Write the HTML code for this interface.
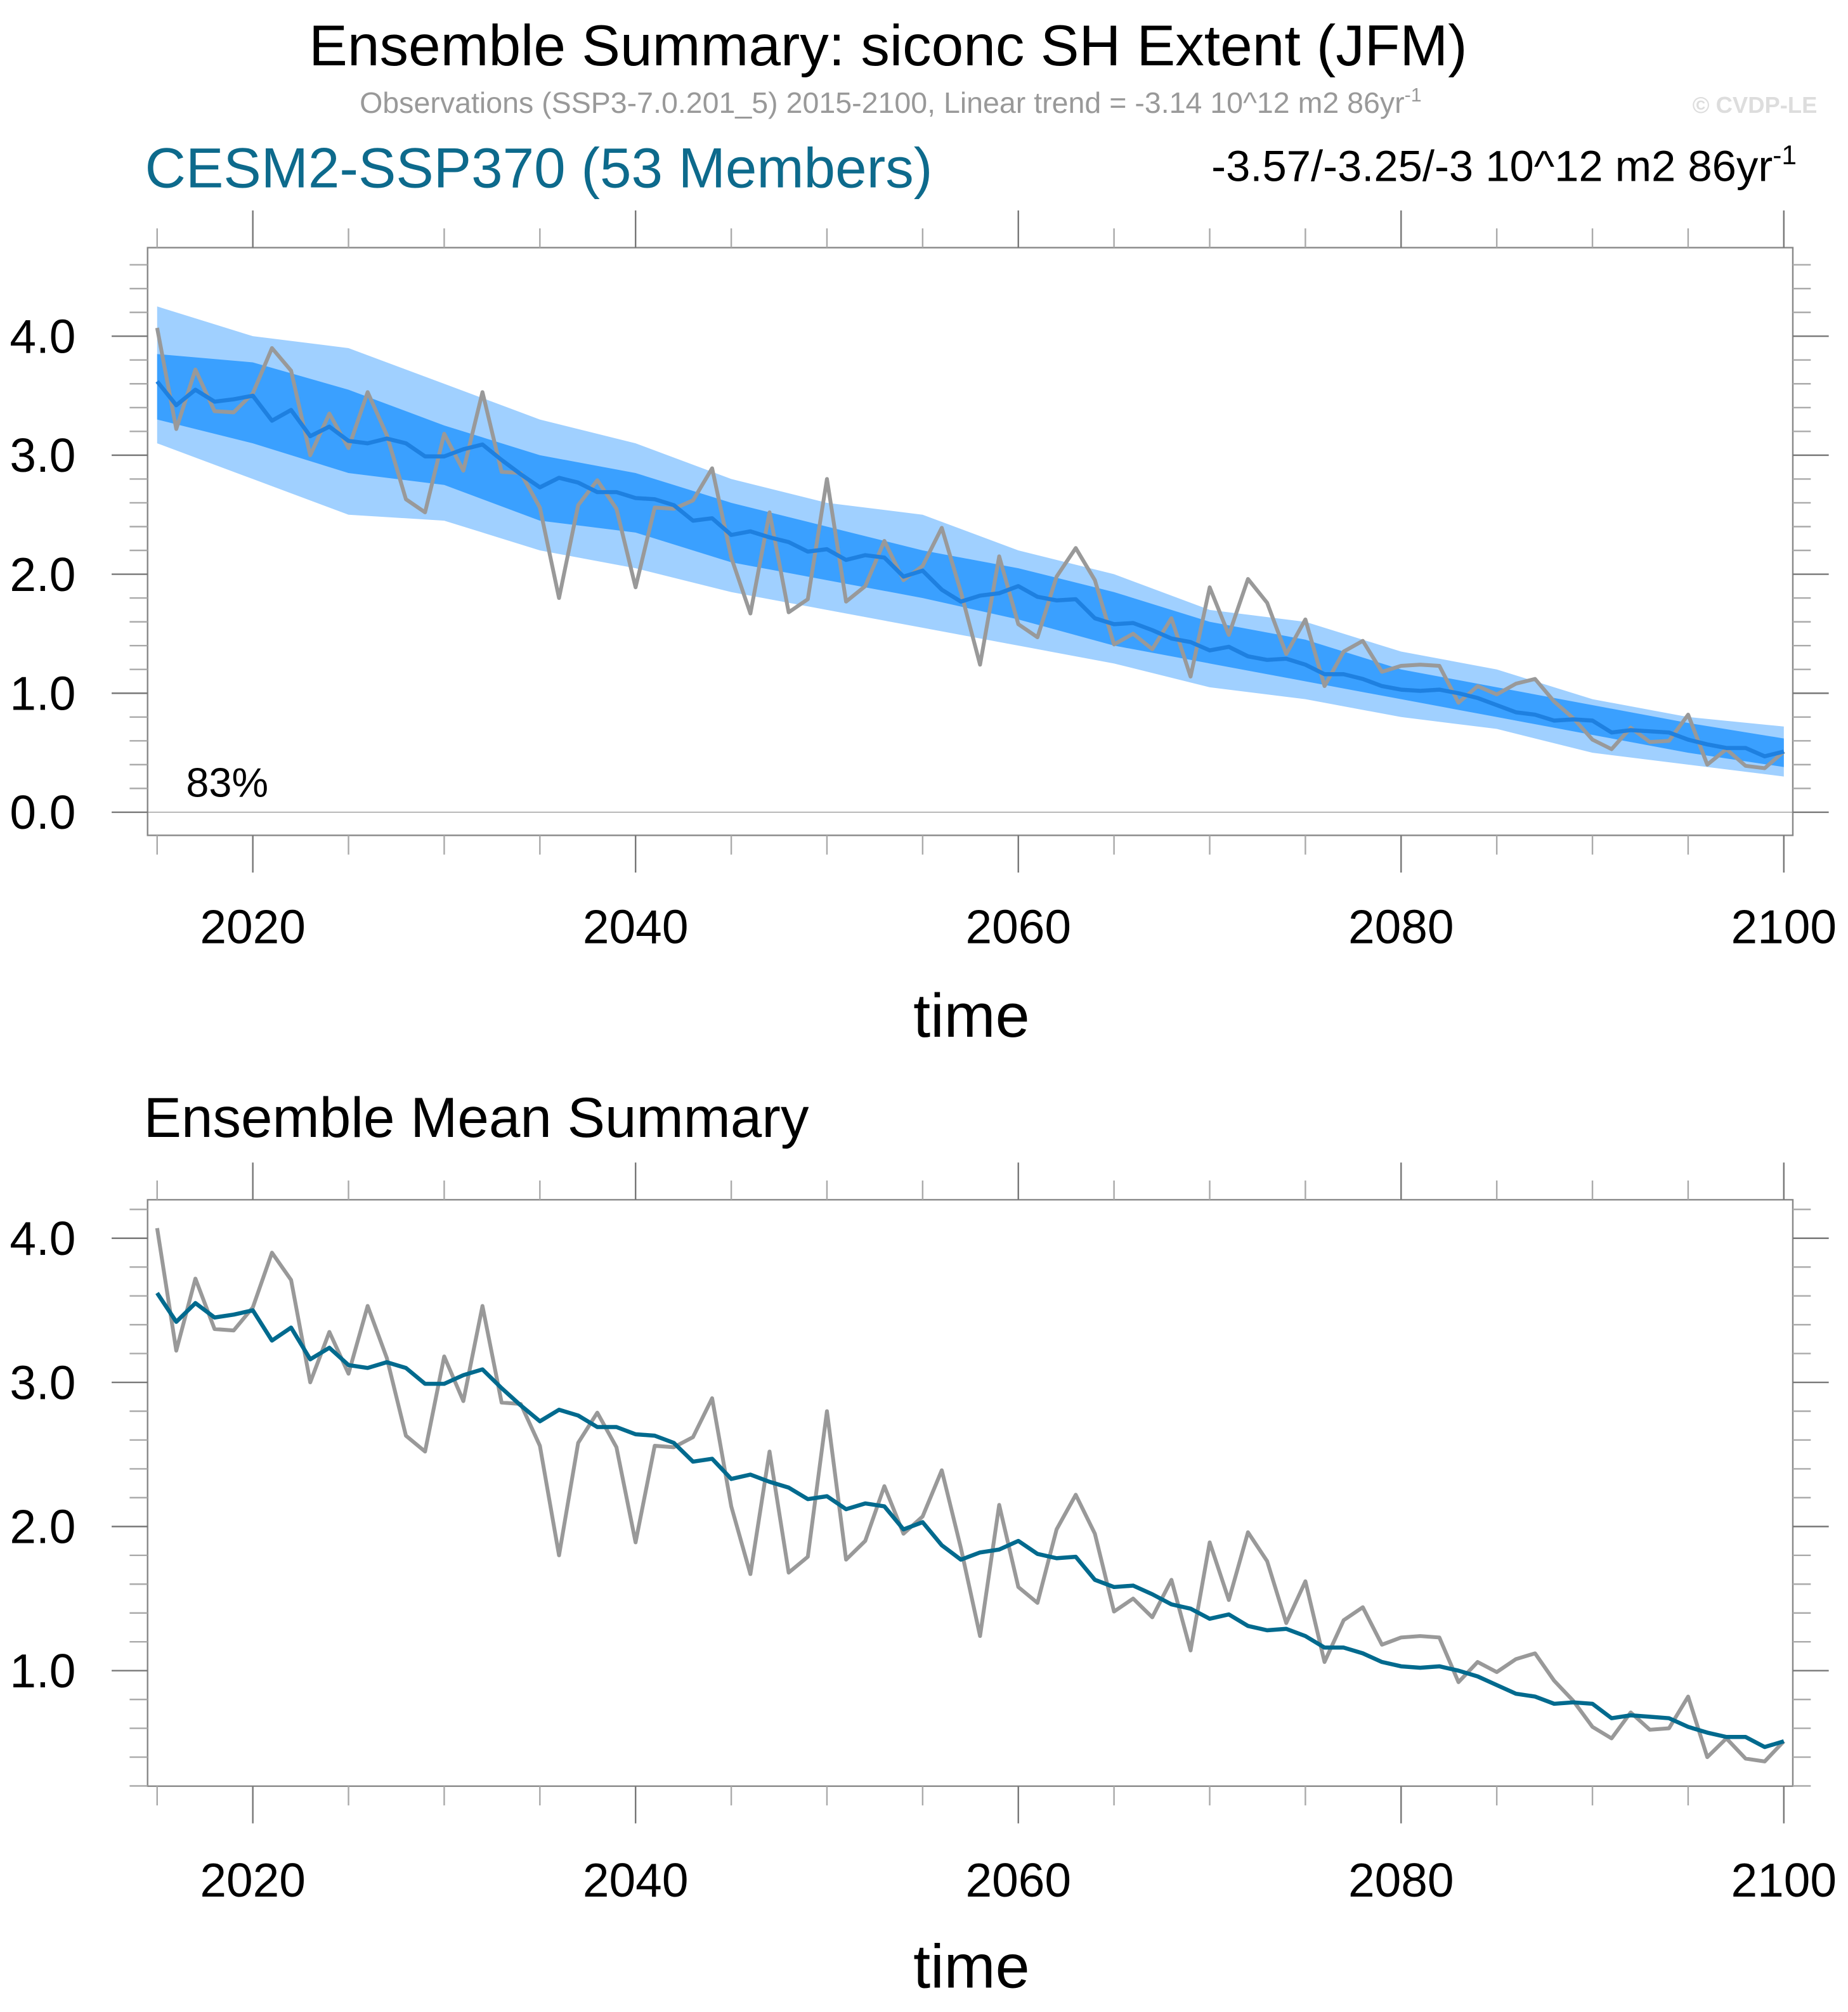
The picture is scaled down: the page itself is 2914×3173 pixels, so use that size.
<!DOCTYPE html>
<html><head><meta charset="utf-8"><style>
html,body{margin:0;padding:0;background:#fff;}
svg{display:block;font-family:"Liberation Sans",sans-serif;}
</style></head><body>
<svg id="chart" width="2914" height="3173" viewBox="0 0 1440 1568" xmlns="http://www.w3.org/2000/svg">
<rect width="1440" height="1568" fill="#fff"/>
<text x="692" y="51" font-size="45" text-anchor="middle" fill="#000">Ensemble Summary: siconc SH Extent (JFM)</text>
<text x="694" y="88" font-size="23" text-anchor="middle" fill="#999">Observations (SSP3-7.0.201_5) 2015-2100, Linear trend = -3.14 10^12 m2 86yr<tspan dy="-9" font-size="15">-1</tspan></text>
<text x="1416" y="88" font-size="18" font-weight="bold" text-anchor="end" fill="#ddd">© CVDP-LE</text>
<text x="113" y="146" font-size="44" fill="#0d6a8c">CESM2-SSP370 (53 Members)</text>
<text x="1400" y="141" font-size="34" text-anchor="end" fill="#000">-3.57/-3.25/-3 10^12 m2 86yr<tspan dy="-13" font-size="21">-1</tspan></text>
<g id="top"></g>
<text x="757" y="808" font-size="48" text-anchor="middle">time</text>
<text x="112" y="886" font-size="44">Ensemble Mean Summary</text>
<g id="bot"></g>
<text x="757" y="1549" font-size="48" text-anchor="middle">time</text>
</svg>
<script>
const years = [];
for (let y = 2015; y <= 2100; y++) years.push(y);
const obs = [4.07,3.22,3.72,3.37,3.36,3.52,3.90,3.71,3.00,3.35,3.06,3.53,3.17,2.63,2.52,3.18,2.87,3.53,2.86,2.85,2.56,1.80,2.58,2.79,2.55,1.89,2.56,2.55,2.62,2.89,2.14,1.67,2.52,1.68,1.79,2.80,1.77,1.90,2.28,1.95,2.07,2.39,1.85,1.24,2.15,1.58,1.47,1.98,2.22,1.95,1.41,1.50,1.37,1.63,1.14,1.89,1.49,1.96,1.76,1.33,1.62,1.06,1.35,1.44,1.18,1.23,1.24,1.23,0.92,1.06,0.99,1.08,1.12,0.93,0.79,0.61,0.53,0.71,0.59,0.60,0.82,0.40,0.53,0.39,0.37,0.51];
const ensMean = [3.62,3.42,3.55,3.45,3.47,3.50,3.29,3.38,3.16,3.24,3.12,3.10,3.14,3.10,2.99,2.99,3.05,3.09,2.96,2.84,2.73,2.81,2.77,2.69,2.69,2.64,2.63,2.58,2.45,2.47,2.33,2.36,2.31,2.27,2.19,2.21,2.12,2.16,2.14,1.98,2.03,1.87,1.77,1.82,1.84,1.90,1.81,1.78,1.79,1.63,1.58,1.59,1.53,1.46,1.43,1.36,1.39,1.31,1.28,1.29,1.24,1.16,1.16,1.12,1.06,1.03,1.02,1.03,1.00,0.96,0.90,0.84,0.82,0.77,0.78,0.77,0.67,0.69,0.68,0.67,0.61,0.57,0.54,0.54,0.47,0.51];
const bandYears = [2015,2020,2025,2030,2035,2040,2045,2050,2055,2060,2065,2070,2075,2080,2085,2090,2095,2100];
const outerHi = [4.25,4.0,3.9,3.6,3.3,3.1,2.8,2.6,2.5,2.2,2.0,1.7,1.6,1.35,1.2,0.95,0.8,0.72];
const outerLo = [3.1,2.8,2.5,2.45,2.2,2.05,1.85,1.7,1.55,1.4,1.25,1.05,0.95,0.8,0.7,0.5,0.4,0.3];
const innerHi = [3.85,3.78,3.55,3.25,3.0,2.85,2.6,2.4,2.2,2.05,1.85,1.6,1.45,1.2,1.05,0.9,0.75,0.62];
const innerLo = [3.3,3.1,2.85,2.75,2.45,2.35,2.1,1.95,1.8,1.62,1.4,1.25,1.1,0.95,0.8,0.65,0.5,0.38];
const yTicks = [0,1,2,3,4];
const xTicks = [2020,2040,2060,2080,2100];

const NS = "http://www.w3.org/2000/svg";
function mk(parent, tag, attrs) {
  const e = document.createElementNS(NS, tag);
  for (const k in attrs) e.setAttribute(k, attrs[k]);
  parent.appendChild(e);
  return e;
}
const xs = yr => 197 + (yr - 2020) * (1390 - 197) / 80;

function panel(g, top, bot, y0px, perUnit, ymin, ymax, showZero, bands, meanColor, labelY) {
  const ys = v => y0px - v * perUnit;
  const L = 115, R = 1397;
  if (showZero) {
    const z = mk(g, "line", {x1:L, x2:R, y1:ys(0), y2:ys(0), stroke:"#bbb", "stroke-width":1});
    
    
  }
  if (bands) {
    const poly = (hi, lo, col, name) => {
      let pts = bandYears.map((y,i) => xs(y)+","+ys(hi[i]));
      pts = pts.concat(bandYears.slice().reverse().map((y,j) => xs(y)+","+ys(lo[bandYears.length-1-j])));
      const p = mk(g, "polygon", {points:pts.join(" "), fill:col});
      
      
    };
    poly(outerHi, outerLo, "#a0d0ff", "outer-spread-band");
    poly(innerHi, innerLo, "#3aa0ff", "inner-spread-band");
  }
  const line = (arr, col, w, name) => {
    const p = mk(g, "polyline", {points:years.map((y,i)=>xs(y)+","+ys(arr[i])).join(" "), fill:"none", stroke:col, "stroke-width":w, "stroke-linejoin":"round"});
    
    
  };
  line(obs, "#999", 3, "observations-line");
  line(ensMean, meanColor, 3.2, "ensemble-mean-line");
  const f = mk(g, "rect", {x:L, y:top, width:R-L, height:bot-top, fill:"none", stroke:"#888", "stroke-width":1.2});
  
  
  for (let v = Math.ceil(ymin*5)/5; v <= ymax + 1e-9; v += 0.2) {
    const y = ys(v);
    if (y < top || y > bot) continue;
    const major = Math.abs(v - Math.round(v)) < 1e-6;
    const len = major ? 28 : 14;
    const t1 = mk(g, "line", {x1:L-len, x2:L, y1:y, y2:y, stroke:major?"#777":"#aaa", "stroke-width":1.2});
    
    
    const t2 = mk(g, "line", {x1:R, x2:R+len, y1:y, y2:y, stroke:major?"#777":"#aaa", "stroke-width":1.2});
    
    
  }
  yTicks.forEach(v => {
    const y = ys(v);
    if (y < top || y > bot) return;
    const t = mk(g, "text", {x:59, y:y+13, "font-size":37, "text-anchor":"end"});
    t.textContent = v.toFixed(1);
    
    
  });
  for (let yr = 2015; yr <= 2100; yr += 5) {
    const major = yr % 20 === 0;
    const len = major ? 29 : 15;
    const x = xs(yr);
    const a = mk(g, "line", {x1:x, x2:x, y1:top-len, y2:top, stroke:major?"#777":"#aaa", "stroke-width":1.2});
    
    
    const b = mk(g, "line", {x1:x, x2:x, y1:bot, y2:bot+len, stroke:major?"#777":"#aaa", "stroke-width":1.2});
    
    
  }
  xTicks.forEach(yr => {
    const t = mk(g, "text", {x:xs(yr), y:labelY, "font-size":37, "text-anchor":"middle"});
    t.textContent = yr;
    
    
  });
}
panel(document.getElementById("top"), 193, 651, 633, 92.75, -0.19, 4.74, true, true, "#1e80e0", 735);
panel(document.getElementById("bot"), 935, 1392, 1414.3, 112.33, 0.2, 4.27, false, false, "#006a8e", 1478);
const pct = mk(document.getElementById("top"), "text", {x:145, y:621, "font-size":32});
pct.textContent = "83%";


</script>
</body></html>
